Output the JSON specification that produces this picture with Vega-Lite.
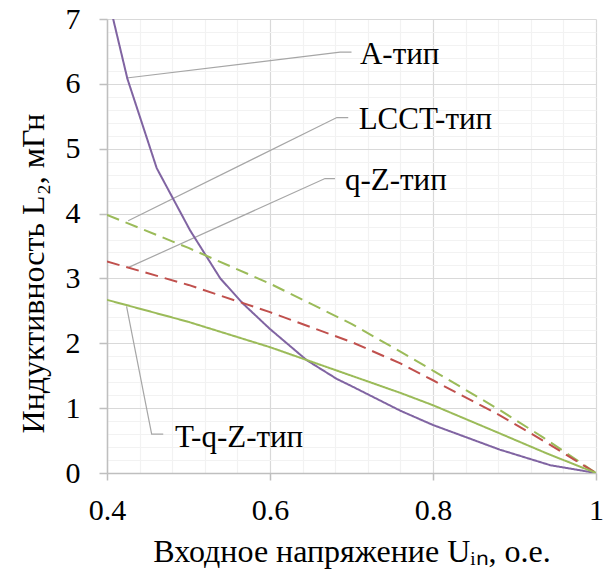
{
  "$schema": "https://vega.github.io/schema/vega-lite/v6.json",
  "width": 489,
  "height": 454,
  "autosize": "none",
  "padding": {"left": 107, "top": 19, "right": 12, "bottom": 106},
  "config": {"view": {"stroke": null}},
  "datasets": {
    "curves": [
      {"series": "A", "x": 0.4, "y": 7.4},
      {"series": "A", "x": 0.425, "y": 6.08},
      {"series": "A", "x": 0.461, "y": 4.7},
      {"series": "A", "x": 0.502, "y": 3.74},
      {"series": "A", "x": 0.539, "y": 3.0},
      {"series": "A", "x": 0.567, "y": 2.61},
      {"series": "A", "x": 0.6, "y": 2.22},
      {"series": "A", "x": 0.645, "y": 1.74},
      {"series": "A", "x": 0.682, "y": 1.45},
      {"series": "A", "x": 0.7, "y": 1.34},
      {"series": "A", "x": 0.76, "y": 0.96},
      {"series": "A", "x": 0.8, "y": 0.74},
      {"series": "A", "x": 0.882, "y": 0.36},
      {"series": "A", "x": 0.944, "y": 0.12},
      {"series": "A", "x": 1.0, "y": 0.0},
      {"series": "LCCT", "x": 0.4, "y": 3.98},
      {"series": "LCCT", "x": 0.5, "y": 3.47},
      {"series": "LCCT", "x": 0.6, "y": 2.92},
      {"series": "LCCT", "x": 0.7, "y": 2.3},
      {"series": "LCCT", "x": 0.76, "y": 1.87},
      {"series": "LCCT", "x": 0.8, "y": 1.58},
      {"series": "LCCT", "x": 0.882, "y": 0.97},
      {"series": "LCCT", "x": 0.935, "y": 0.55},
      {"series": "LCCT", "x": 1.0, "y": 0.0},
      {"series": "qZ", "x": 0.4, "y": 3.26},
      {"series": "qZ", "x": 0.5, "y": 2.9},
      {"series": "qZ", "x": 0.6, "y": 2.48},
      {"series": "qZ", "x": 0.7, "y": 2.02},
      {"series": "qZ", "x": 0.76, "y": 1.69},
      {"series": "qZ", "x": 0.8, "y": 1.43},
      {"series": "qZ", "x": 0.882, "y": 0.89},
      {"series": "qZ", "x": 0.935, "y": 0.5},
      {"series": "qZ", "x": 1.0, "y": 0.0},
      {"series": "TqZ", "x": 0.4, "y": 2.67},
      {"series": "TqZ", "x": 0.5, "y": 2.33},
      {"series": "TqZ", "x": 0.6, "y": 1.94},
      {"series": "TqZ", "x": 0.7, "y": 1.5},
      {"series": "TqZ", "x": 0.76, "y": 1.235},
      {"series": "TqZ", "x": 0.8, "y": 1.045},
      {"series": "TqZ", "x": 0.882, "y": 0.61},
      {"series": "TqZ", "x": 0.94, "y": 0.3},
      {"series": "TqZ", "x": 1.0, "y": 0.0}
    ],
    "callouts": [
      {"name": "A", "ord": 1, "x": 0.4241, "y": 6.09},
      {"name": "A", "ord": 2, "x": 0.686, "y": 6.49},
      {"name": "A", "ord": 3, "x": 0.7, "y": 6.49},
      {"name": "LCCT", "ord": 1, "x": 0.426, "y": 3.89},
      {"name": "LCCT", "ord": 2, "x": 0.682, "y": 5.48},
      {"name": "LCCT", "ord": 3, "x": 0.696, "y": 5.48},
      {"name": "qZ", "ord": 1, "x": 0.4265, "y": 3.17},
      {"name": "qZ", "ord": 2, "x": 0.6675, "y": 4.54},
      {"name": "qZ", "ord": 3, "x": 0.6797, "y": 4.54},
      {"name": "TqZ", "ord": 1, "x": 0.424, "y": 2.57},
      {"name": "TqZ", "ord": 2, "x": 0.4548, "y": 0.6},
      {"name": "TqZ", "ord": 3, "x": 0.469, "y": 0.6}
    ],
    "labels": [
      {"text": "A-тип", "x": 0.7104, "y": 6.31},
      {"text": "LCCT-тип", "x": 0.7088, "y": 5.3},
      {"text": "q-Z-тип", "x": 0.692, "y": 4.36},
      {"text": "T-q-Z-тип", "x": 0.4834, "y": 0.4}
    ]
  },
  "encoding": {
    "x": {
      "field": "x",
      "type": "quantitative",
      "scale": {"domain": [0.4, 1], "nice": false, "zero": false},
      "axis": {
        "values": [0.4, 0.44, 0.48, 0.52, 0.56, 0.6, 0.64, 0.68, 0.72, 0.76, 0.8, 0.84, 0.88, 0.92, 0.96, 1.0],
        "title": "Входное напряжение Uᵢₙ, о.е.",
        "titleFont": "Times New Roman",
        "titleFontSize": 32,
        "titleFontWeight": "normal",
        "titleColor": "black",
        "titlePadding": 11,
        "labelExpr": "abs(datum.value*5-round(datum.value*5))<0.001 ? format(datum.value, '.1~f') : ''",
        "labelFont": "Times New Roman",
        "labelFontSize": 30,
        "labelColor": "black",
        "labelPadding": 15,
        "labelOverlap": false,
        "labelFlush": false,
        "labelBound": false,
        "tickSize": 7,
        "tickColor": "#bfbfbf",
        "tickWidth": 1.5,
        "tickOpacity": {"condition": {"test": "abs(datum.value*5-round(datum.value*5))<0.001", "value": 1}, "value": 0},
        "domainColor": "#bfbfbf",
        "domainWidth": 1.5,
        "grid": true,
        "gridWidth": 1.2,
        "gridColor": {"condition": {"test": "abs(datum.value*5-round(datum.value*5))<0.001", "value": "#d9d9d9"}, "value": "#f2f2f2"}
      }
    },
    "y": {
      "field": "y",
      "type": "quantitative",
      "scale": {"domain": [0, 7], "nice": false, "zero": false},
      "axis": {
        "values": [0, 0.2, 0.4, 0.6, 0.8, 1, 1.2, 1.4, 1.6, 1.8, 2, 2.2, 2.4, 2.6, 2.8, 3, 3.2, 3.4, 3.6, 3.8, 4, 4.2, 4.4, 4.6, 4.8, 5, 5.2, 5.4, 5.6, 5.8, 6, 6.2, 6.4, 6.6, 6.8, 7],
        "title": "Индуктивность L₂, мГн",
        "titleFont": "Times New Roman",
        "titleFontSize": 32,
        "titleFontWeight": "normal",
        "titleColor": "black",
        "titlePadding": 15,
        "titleY": 254,
        "labelExpr": "abs(datum.value-round(datum.value))<0.001 ? format(datum.value, 'd') : ''",
        "labelFont": "Times New Roman",
        "labelFontSize": 30,
        "labelColor": "black",
        "labelPadding": 19,
        "labelOverlap": false,
        "labelFlush": false,
        "labelBound": false,
        "tickSize": 8,
        "tickColor": "#bfbfbf",
        "tickWidth": 1.5,
        "tickOpacity": {"condition": {"test": "abs(datum.value-round(datum.value))<0.001", "value": 1}, "value": 0},
        "domainColor": "#bfbfbf",
        "domainWidth": 1.5,
        "grid": true,
        "gridWidth": 1.2,
        "gridColor": {"condition": {"test": "abs(datum.value-round(datum.value))<0.001", "value": "#d9d9d9"}, "value": "#f2f2f2"}
      }
    }
  },
  "layer": [
    {
      "data": {"name": "callouts"},
      "mark": {"type": "line", "color": "#a6a6a6", "strokeWidth": 1.2},
      "encoding": {
        "detail": {"field": "name", "type": "nominal"},
        "order": {"field": "ord", "type": "quantitative"}
      }
    },
    {
      "data": {"name": "curves"},
      "mark": {"type": "line", "clip": true, "strokeWidth": 2},
      "encoding": {
        "color": {
          "field": "series",
          "type": "nominal",
          "scale": {"domain": ["A", "LCCT", "qZ", "TqZ"], "range": ["#8064A2", "#9BBB59", "#C0504D", "#9BBB59"]},
          "legend": null
        },
        "strokeDash": {
          "field": "series",
          "type": "nominal",
          "scale": {"domain": ["A", "LCCT", "qZ", "TqZ"], "range": [[1, 0], [13, 7], [13, 7], [1, 0]]},
          "legend": null
        }
      }
    },
    {
      "data": {"name": "labels"},
      "mark": {"type": "text", "align": "left", "baseline": "alphabetic", "fontSize": 31, "color": "black", "font": "Times New Roman"},
      "encoding": {
        "text": {"field": "text", "type": "nominal"}
      }
    }
  ]
}
